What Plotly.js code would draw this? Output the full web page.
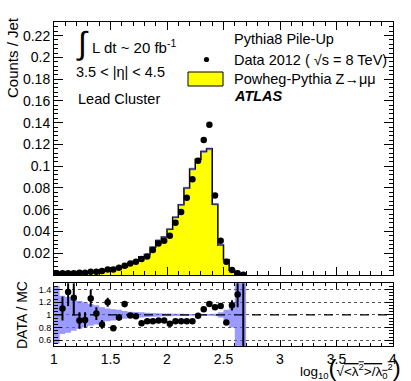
<!DOCTYPE html>
<html>
<head>
<meta charset="utf-8">
<script src="https://cdn.plot.ly/plotly-3.0.1.min.js"></script>
<style>
  body { margin: 0; background: #fff; }
  #myDiv { width: 411px; height: 381px; }
</style>
</head>
<body>
<div id="myDiv"></div>
<script>
// bin centres, width 0.05
var binCenters = [1.025, 1.075, 1.125, 1.175, 1.225, 1.275, 1.325, 1.375, 1.425, 1.475,
                  1.525, 1.575, 1.625, 1.675, 1.725, 1.775, 1.825, 1.875, 1.925, 1.975,
                  2.025, 2.075, 2.125, 2.175, 2.225, 2.275, 2.325, 2.375, 2.425, 2.475,
                  2.525, 2.575, 2.625, 2.675];

var dataCounts = [0.0016, 0.0016, 0.0016, 0.0016, 0.0020, 0.0022, 0.0030, 0.0030, 0.0037, 0.0050,
                  0.0050, 0.0068, 0.0086, 0.0105, 0.0123, 0.0147, 0.0170, 0.0230, 0.0290, 0.0316,
                  0.0360, 0.0480, 0.0580, 0.0710, 0.0880, 0.1050, 0.1240, 0.1380, 0.0730, 0.0316,
                  0.0123, 0.0046, 0.0016, 0.0003];

var mcCounts = [0.0012, 0.0015, 0.0012, 0.0013, 0.0022, 0.0024, 0.0024, 0.0030, 0.0044, 0.0042,
                0.0063, 0.0071, 0.0074, 0.0107, 0.0126, 0.0169, 0.0189, 0.0255, 0.0318, 0.0350,
                0.0420, 0.0530, 0.0645, 0.0800, 0.0975, 0.1065, 0.1135, 0.1160, 0.0650, 0.0277,
                0.0140, 0.0045, 0.0012, 0.0002];

// relative MC stat. uncertainty (blue band)
var mcRelErr = [0.45, 0.30, 0.28, 0.25, 0.22, 0.20, 0.17, 0.15, 0.12, 0.10,
                0.09, 0.08, 0.06, 0.05, 0.045, 0.04, 0.035, 0.03, 0.025, 0.022,
                0.02, 0.018, 0.016, 0.015, 0.014, 0.013, 0.012, 0.012, 0.018, 0.04,
                0.08, 0.2, 0.6, 0.6];

var ratioVals = [null, 1.10, 1.36, 1.27, 0.91, 0.92, 1.26, 1.02, 0.85, 1.20,
                 0.79, 0.96, 1.17, 0.99, 0.98, 0.87, 0.90, 0.90, 0.91, 0.91,
                 0.86, 0.90, 0.90, 0.90, 0.90, 0.985, 1.09, 1.17, 1.12, 1.14,
                 0.88, 1.15, 1.32, 3.0];

var ratioErr = [null, 0.19, 0.22, 0.28, 0.13, 0.12, 0.13, 0.10, 0.07, 0.07,
                0.04, 0.05, 0.05, 0.03, 0.03, 0.02, 0.02, 0.02, 0.015, 0.015,
                0.015, 0.01, 0.01, 0.01, 0.01, 0.01, 0.01, 0.01, 0.015, 0.02,
                0.03, 0.08, 0.20, 2.6];

var countTicks = [0.02, 0.04, 0.06, 0.08, 0.1, 0.12, 0.14, 0.16, 0.18, 0.2, 0.22];
var countTickText = ['0.02', '0.04', '0.06', '0.08', '0.1', '0.12', '0.14', '0.16', '0.18', '0.2', '0.22'];
var ratioTicks = [0.6, 0.8, 1, 1.2, 1.4];
var ratioTickText = ['0.6', '0.8', '1', '1.2', '1.4'];

var half = 0.025;
var fontName = 'Liberation Sans, Arial, sans-serif';

// step outline helpers (edges from centres)
function stepX(closed) {
    var xs = [];
    if (closed) xs.push(binCenters[0] - half);
    for (var i = 0; i < binCenters.length; i++) xs.push(binCenters[i] - half);
    var last = binCenters[binCenters.length - 1] + half;
    xs.push(last);
    if (closed) xs.push(last);
    return xs;
}

function stepY(vals, closed) {
    var ys = [];
    if (closed) ys.push(0);
    for (var i = 0; i < vals.length; i++) ys.push(vals[i]);
    ys.push(vals[vals.length - 1]);
    if (closed) ys.push(0);
    return ys;
}

var mcLow = [], mcHigh = [], rLow = [], rHigh = [];
for (var i = 0; i < mcCounts.length; i++) {
    mcLow.push(mcCounts[i] * (1 - mcRelErr[i]));
    mcHigh.push(mcCounts[i] * (1 + mcRelErr[i]));
    rLow.push(1 - mcRelErr[i]);
    rHigh.push(1 + mcRelErr[i]);
}

var bandColor = 'rgba(100,100,255,0.5)';

var traces = [
    { // MC histogram
      x: stepX(true), y: stepY(mcCounts, true), xaxis: 'x', yaxis: 'y',
      mode: 'lines', line: {shape: 'hv', color: 'black', width: 1.5},
      fill: 'tozeroy', fillcolor: '#ffff00'
    },
    { x: stepX(false), y: stepY(mcLow, false), xaxis: 'x', yaxis: 'y',
      mode: 'lines', line: {shape: 'hv', width: 0} },
    { x: stepX(false), y: stepY(mcHigh, false), xaxis: 'x', yaxis: 'y',
      mode: 'lines', line: {shape: 'hv', width: 0},
      fill: 'tonexty', fillcolor: bandColor },
    { // data
      x: binCenters, y: dataCounts, xaxis: 'x', yaxis: 'y',
      mode: 'markers', marker: {color: 'black', size: 6.5}
    },
    // ratio band
    { x: stepX(false), y: stepY(rLow, false), xaxis: 'x2', yaxis: 'y2',
      mode: 'lines', line: {shape: 'hv', width: 0} },
    { x: stepX(false), y: stepY(rHigh, false), xaxis: 'x2', yaxis: 'y2',
      mode: 'lines', line: {shape: 'hv', width: 0},
      fill: 'tonexty', fillcolor: 'rgba(100,100,255,0.65)' },
    { x: binCenters, y: ratioVals, xaxis: 'x2', yaxis: 'y2',
      mode: 'markers', marker: {color: 'black', size: 6.5},
      error_y: {type: 'data', array: ratioErr, visible: true, color: 'black', thickness: 2, width: 0}
    }
];

function px(x) { return (x - 54) / 339; }
function py(y) { return (346 - y) / 324; }

function note(text, x, y, size, extra) {
    var a = { text: text, xref: 'paper', yref: 'paper', x: px(x), y: py(y),
              xanchor: 'left', yanchor: 'middle', showarrow: false,
              font: {family: fontName, size: size, color: 'black'} };
    for (var k in extra) a[k] = extra[k];
    return a;
}

var tickFont = {family: fontName, size: 14, color: 'black'};

var layout = {
    width: 411, height: 381,
    margin: {l: 54, r: 18, t: 22, b: 35},
    paper_bgcolor: 'white', plot_bgcolor: 'white',
    showlegend: false,
    font: {family: fontName, color: 'black'},
    xaxis: {
        domain: [0, 1], range: [1, 4], anchor: 'y',
        showticklabels: false, showgrid: false, zeroline: false,
        ticks: 'inside', ticklen: 8, dtick: 0.5, tick0: 1,
        minor: {dtick: 0.1, ticklen: 4, ticks: 'inside', tickcolor: 'black'},
        showline: true, mirror: 'ticks', linecolor: 'black', linewidth: 1, tickcolor: 'black'
    },
    yaxis: {
        domain: [0.219, 1], range: [0, 0.2325], anchor: 'x',
        tickmode: 'array', tickvals: countTicks, ticktext: countTickText, tickfont: tickFont,
        showgrid: false, zeroline: false,
        ticks: 'inside', ticklen: 9,
        minor: {dtick: 0.004, ticklen: 4, ticks: 'inside', tickcolor: 'black'},
        showline: true, mirror: 'ticks', linecolor: 'black', linewidth: 1, tickcolor: 'black'
    },
    xaxis2: {
        domain: [0, 1], range: [1, 4], anchor: 'y2',
        tickfont: tickFont, showgrid: false, zeroline: false,
        ticks: 'inside', ticklen: 6, dtick: 0.5, tick0: 1,
        minor: {dtick: 0.1, ticklen: 3, ticks: 'inside', tickcolor: 'black'},
        showline: true, mirror: 'ticks', linecolor: 'black', linewidth: 1, tickcolor: 'black'
    },
    yaxis2: {
        domain: [0, 0.194], range: [0.51, 1.5], anchor: 'x2',
        tickmode: 'array', tickvals: ratioTicks, ticktext: ratioTickText,
        tickfont: {family: fontName, size: 9, color: 'black'},
        showgrid: true, gridcolor: '#555', griddash: 'dot', gridwidth: 1, zeroline: false,
        ticks: 'inside', ticklen: 8,
        minor: {dtick: 0.05, ticklen: 4, ticks: 'inside', tickcolor: 'black'},
        showline: true, mirror: 'ticks', linecolor: 'black', linewidth: 1, tickcolor: 'black'
    },
    shapes: [
        {type: 'line', xref: 'x2 domain', yref: 'y2', x0: 0, x1: 1, y0: 1, y1: 1,
         line: {color: 'black', width: 1.2, dash: 'dash'}},
        {type: 'rect', xref: 'paper', yref: 'paper', x0: px(188), x1: px(223), y0: py(86), y1: py(72),
         fillcolor: '#ffff00', line: {color: 'black', width: 1}},
        {type: 'circle', xref: 'paper', yref: 'paper', xsizemode: 'pixel', ysizemode: 'pixel',
         xanchor: px(206.5), yanchor: py(59.5), x0: -2.6, x1: 2.6, y0: -2.6, y1: 2.6,
         fillcolor: 'black', line: {color: 'black', width: 0}}
    ],
    annotations: [
        note('Counts / Jet', 12, 58, 15, {textangle: -90, xanchor: 'center'}),
        note('DATA / MC', 22, 315, 14, {textangle: -90, xanchor: 'center'}),
        note('∫', 74, 43, 32, {}),
        note('L dt ~ 20 fb<sup>-1</sup>', 90, 46, 15, {}),
        note('3.5 < |η| < 4.5', 74, 72, 14.5, {}),
        note('Lead Cluster', 76, 99, 14.5, {}),
        note('Pythia8 Pile-Up', 232, 39, 14.5, {}),
        note('Data 2012 ( √s = 8 TeV)', 232, 60, 14.5, {}),
        note('Powheg-Pythia Z→μμ', 232, 79, 14.5, {}),
        note('<b><i>ATLAS</i></b>', 232, 96, 14.5, {}),
        note('log<sub>10</sub><span style="font-size:24px">(</span>√<span style="text-decoration:overline">&lt;λ<sup>2</sup>&gt;/λ<sub>0</sub><sup>2</sup></span><span style="font-size:24px">)</span>',
             403, 367, 13.5, {xanchor: 'right'})
    ]
};

Plotly.newPlot('myDiv', traces, layout, {staticPlot: true});
</script>
</body>
</html>
